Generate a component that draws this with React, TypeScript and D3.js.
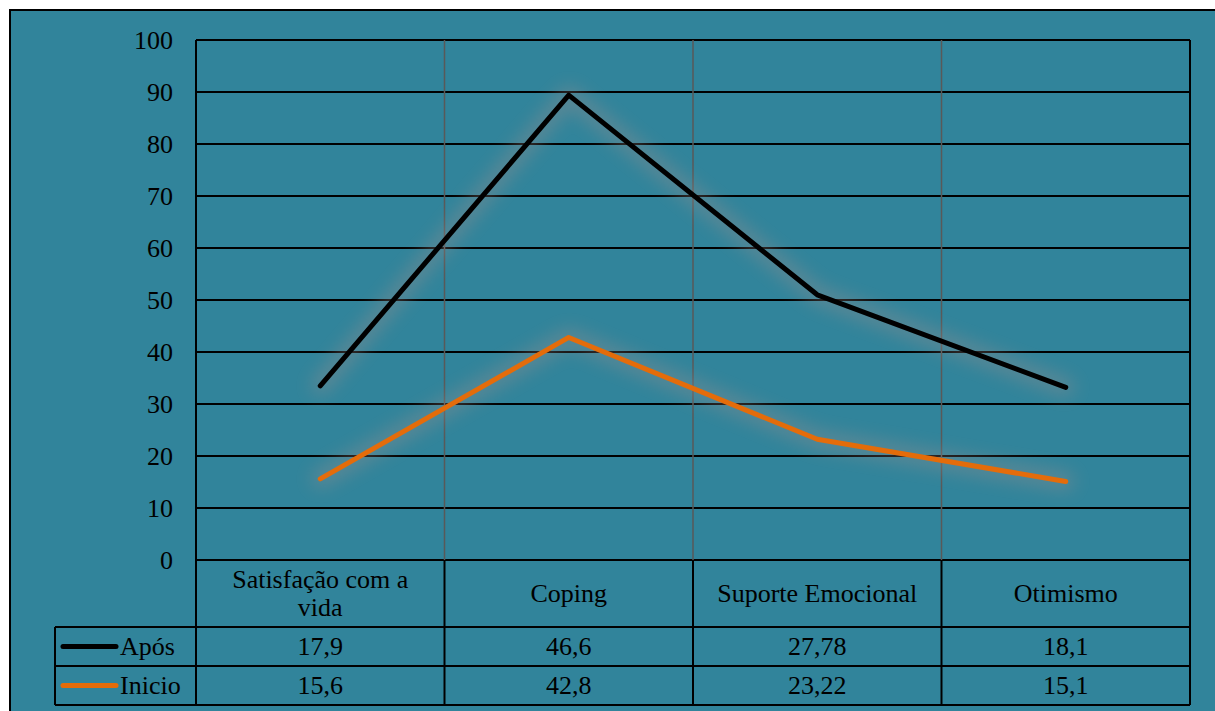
import React from "react";
import * as d3 from "d3";

const categories = ["Satisfação com a vida", "Coping", "Suporte Emocional", "Otimismo"];
const categoryLines = [["Satisfação com a", "vida"], ["Coping"], ["Suporte Emocional"], ["Otimismo"]];
const apos = [17.9, 46.6, 27.78, 18.1];
const aposLabels = ["17,9", "46,6", "27,78", "18,1"];
const inicio = [15.6, 42.8, 23.22, 15.1];
const inicioLabels = ["15,6", "42,8", "23,22", "15,1"];
const yTicks = [0, 10, 20, 30, 40, 50, 60, 70, 80, 90, 100];

const W = 1215;
const H = 711;
const BG = "#31849B";
const ORANGE = "#E46C0A";
const FONT = "'Liberation Serif', 'Times New Roman', serif";
const FS = 26;

export default function App() {
  const left = 196, right = 1190, top = 40, bottom = 560;
  const headerBottom = 627, row1Bottom = 666, row2Bottom = 705;
  const legendLeft = 55;

  const x = d3.scaleBand<string>().domain(categories).range([left, right]).padding(0);
  const y = d3.scaleLinear().domain([0, 100]).range([bottom, top]);

  // stacked line: Após stacked on Inicio
  const stacked = inicio.map((v, i) => v + apos[i]);
  const line = d3
    .line<number>()
    .x((_, i) => (x(categories[i]) as number) + x.bandwidth() / 2)
    .y((d) => y(d));

  const inicioPath = line(inicio) as string;
  const aposPath = line(stacked) as string;

  const bounds = categories.map((c) => x(c) as number);

  return (
    <svg
      width={W}
      height={H}
      style={{ position: "absolute", left: 0, top: 0, display: "block" }}
      fontFamily={FONT}
    >
      <defs>
        <filter id="glow" x="-20%" y="-20%" width="140%" height="140%">
          <feGaussianBlur stdDeviation="9" />
        </filter>
      </defs>
      <rect x={0} y={0} width={W} height={H} fill="#ffffff" />
      <rect x={10} y={10} width={W + 10} height={H + 10} fill={BG} stroke="#000" strokeWidth={2} />

      {/* horizontal gridlines */}
      {yTicks.map((t) => (
        <line key={"g" + t} x1={left} x2={right} y1={y(t)} y2={y(t)} stroke="#000" strokeWidth={2} />
      ))}
      {/* vertical category separators in plot */}
      {bounds.slice(1).map((b, i) => (
        <line key={"v" + i} x1={b} x2={b} y1={top} y2={bottom} stroke="#595959" strokeWidth={1.5} />
      ))}
      {/* y tick labels */}
      {yTicks.map((t) => (
        <text key={"t" + t} x={173} y={y(t)} dy="0.33em" textAnchor="end" fontSize={FS} fill="#000">
          {t}
        </text>
      ))}

      {/* glow */}
      <g filter="url(#glow)" opacity={0.4}>
        <path d={aposPath} fill="none" stroke="#9c8e8c" strokeWidth={18} strokeLinejoin="round" strokeLinecap="round" />
        <path d={inicioPath} fill="none" stroke="#9c8e8c" strokeWidth={18} strokeLinejoin="round" strokeLinecap="round" />
      </g>
      <path d={inicioPath} fill="none" stroke={ORANGE} strokeWidth={5} strokeLinejoin="round" strokeLinecap="round" />
      <path d={aposPath} fill="none" stroke="#000" strokeWidth={5} strokeLinejoin="round" strokeLinecap="round" />

      {/* data table */}
      <g stroke="#000" strokeWidth={2}>
        <line x1={left} x2={left} y1={top} y2={row2Bottom} />
        <line x1={right} x2={right} y1={top} y2={row2Bottom} />
        {bounds.slice(1).map((b, i) => (
          <line key={"tv" + i} x1={b} x2={b} y1={bottom} y2={row2Bottom} />
        ))}
        <line x1={left} x2={right} y1={headerBottom} y2={headerBottom} />
        <line x1={legendLeft} x2={left} y1={headerBottom} y2={headerBottom} />
        <line x1={legendLeft} x2={right} y1={row1Bottom} y2={row1Bottom} />
        <line x1={legendLeft} x2={right} y1={row2Bottom} y2={row2Bottom} />
        <line x1={legendLeft} x2={legendLeft} y1={headerBottom} y2={row2Bottom} />
      </g>

      {categoryLines.map((ls, i) => {
        const cx = bounds[i] + x.bandwidth() / 2;
        const midY = (bottom + headerBottom) / 2;
        const lh = 28;
        const start = midY - ((ls.length - 1) * lh) / 2;
        return (
          <text key={"c" + i} textAnchor="middle" fontSize={FS} fill="#000">
            {ls.map((l, j) => (
              <tspan key={j} x={cx} y={start + j * lh} dy="0.33em">
                {l}
              </tspan>
            ))}
          </text>
        );
      })}

      {aposLabels.map((l, i) => (
        <text key={"a" + i} x={bounds[i] + x.bandwidth() / 2} y={(headerBottom + row1Bottom) / 2} dy="0.33em" textAnchor="middle" fontSize={FS} fill="#000">
          {l}
        </text>
      ))}
      {inicioLabels.map((l, i) => (
        <text key={"n" + i} x={bounds[i] + x.bandwidth() / 2} y={(row1Bottom + row2Bottom) / 2} dy="0.33em" textAnchor="middle" fontSize={FS} fill="#000">
          {l}
        </text>
      ))}

      {/* legend keys */}
      <line x1={63} x2={116} y1={(headerBottom + row1Bottom) / 2} y2={(headerBottom + row1Bottom) / 2} stroke="#000" strokeWidth={5} strokeLinecap="round" />
      <text x={120} y={(headerBottom + row1Bottom) / 2} dy="0.33em" fontSize={FS} fill="#000">Após</text>
      <line x1={63} x2={116} y1={(row1Bottom + row2Bottom) / 2} y2={(row1Bottom + row2Bottom) / 2} stroke={ORANGE} strokeWidth={5} strokeLinecap="round" />
      <text x={120} y={(row1Bottom + row2Bottom) / 2} dy="0.33em" fontSize={FS} fill="#000">Inicio</text>
    </svg>
  );
}
